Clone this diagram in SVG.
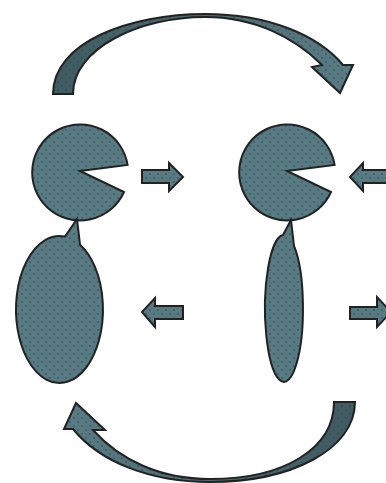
<svg xmlns="http://www.w3.org/2000/svg" width="386" height="483" viewBox="0 0 386 483">
<defs>
<pattern id="dots" width="8" height="8" patternUnits="userSpaceOnUse">
<circle cx="2" cy="2" r="0.8" fill="#2c454c"/>
<circle cx="6" cy="6" r="0.8" fill="#2c454c"/>
<path d="M5.5,2 h1" stroke="#3d585f" stroke-width="0.5"/>
</pattern>
<linearGradient id="gTop" x1="0" y1="0" x2="1" y2="0">
<stop offset="0" stop-color="#3f5a61"/>
<stop offset="1" stop-color="#5a7c85"/>
</linearGradient>
<linearGradient id="gBot" x1="1" y1="0" x2="0" y2="0">
<stop offset="0" stop-color="#3f5a61"/>
<stop offset="1" stop-color="#5a7c85"/>
</linearGradient>
</defs>
<style>
.base{fill:#587a83}
.dot{fill:url(#dots);stroke:#222;stroke-width:2;stroke-linejoin:miter}
</style>

<g id="top-arc">
<path fill="url(#gTop)" d="M53,94 C53,42 130,14 205,14 C268,14 318,35 343,65 L353,65 L340,93 L312,67 L322,65 C295,38 255,17 205,17 C140,17 73,48 73,94 Z"/>
<path class="dot" d="M53,94 C53,42 130,14 205,14 C268,14 318,35 343,65 L353,65 L340,93 L312,67 L322,65 C295,38 255,17 205,17 C140,17 73,48 73,94 Z"/>
</g>

<g id="bottom-arc">
<path fill="url(#gBot)" d="M334,402 L355,402 C355,450 290,482 210,482 C150,482 100,462 73,429 L64,429 L76,403 L105,430 L93,430 C120,460 160,479 210,479 C285,479 334,448 334,402 Z"/>
<path class="dot" d="M334,402 L355,402 C355,450 290,482 210,482 C150,482 100,462 73,429 L64,429 L76,403 L105,430 L93,430 C120,460 160,479 210,479 C285,479 334,448 334,402 Z"/>
</g>

<g id="pacman-left">
<path class="base" d="M80,171 L127.6,165 A48,48 0 1 0 124,192 Z"/>
<path class="dot" d="M80,171 L127.6,165 A48,48 0 1 0 124,192 Z"/>
</g>

<g id="pacman-right">
<path class="base" d="M287,171 L334.6,165 A48,48 0 1 0 331,192 Z"/>
<path class="dot" d="M287,171 L334.6,165 A48,48 0 1 0 331,192 Z"/>
</g>

<g id="bubble-left">
<path class="base" d="M65,236.6 L77,219 L80,244.7 A43.5,73.5 0 1 1 65,236.6 Z"/>
<path class="dot" d="M65,236.6 L77,219 L80,244.7 A43.5,73.5 0 1 1 65,236.6 Z"/>
</g>

<g id="bubble-right">
<path class="base" d="M283,235 L291,220 L294,246 A19,73.5 0 1 1 283,235 Z"/>
<path class="dot" d="M283,235 L291,220 L294,246 A19,73.5 0 1 1 283,235 Z"/>
</g>

<g id="connectors">
<g id="arrow-right-top">
<path class="base" d="M142,170 H169 V163 L183,177 L169,191 V183 H142 Z"/>
<path class="dot" d="M142,170 H169 V163 L183,177 L169,191 V183 H142 Z"/>
</g>
<g id="arrow-left-top">
<path class="base" d="M390,170 H363 V163 L350,177 L363,191 V183 H390 Z"/>
<path class="dot" d="M390,170 H363 V163 L350,177 L363,191 V183 H390 Z"/>
</g>
<g id="arrow-left-bottom">
<path class="base" d="M183,306 H155 V298 L142,312 L155,327 V319 H183 Z"/>
<path class="dot" d="M183,306 H155 V298 L142,312 L155,327 V319 H183 Z"/>
</g>
<g id="arrow-right-bottom">
<path class="base" d="M350,307 H377 V297 L391,312 L377,327 V319 H350 Z"/>
<path class="dot" d="M350,307 H377 V297 L391,312 L377,327 V319 H350 Z"/>
</g>
</g>
</svg>
